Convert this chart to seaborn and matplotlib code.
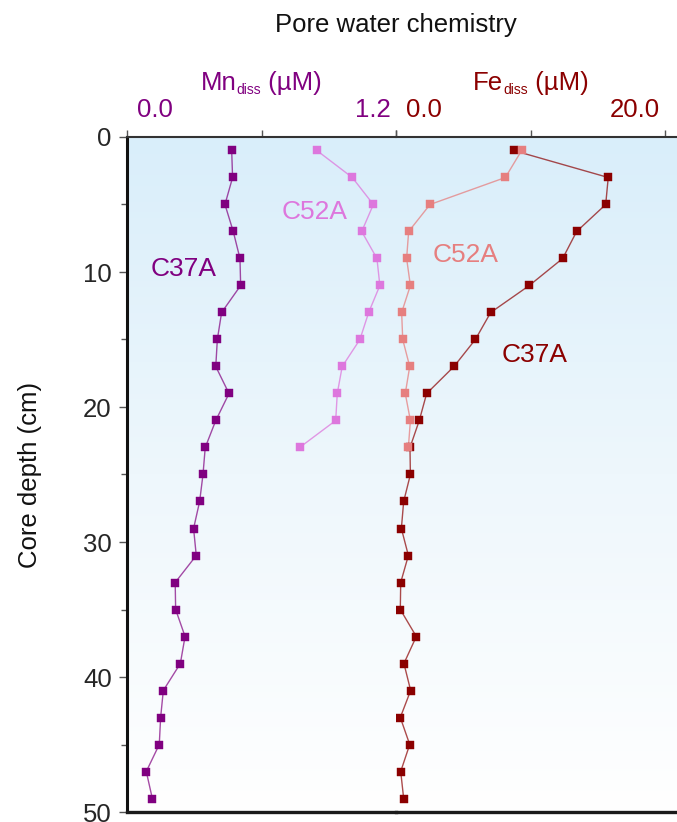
import numpy as np
import pandas as pd
import matplotlib
matplotlib.use("Agg")
import matplotlib.pyplot as plt
import seaborn as sns
from matplotlib.ticker import MultipleLocator
from matplotlib.colors import LinearSegmentedColormap

# ---------------- data ----------------
depth_c37a = [1, 3, 5, 7, 9, 11, 13, 15, 17, 19, 21, 23, 25,
              27, 29, 31, 33, 35, 37, 39, 41, 43, 45, 47, 49]
depth_c52a = [1, 3, 5, 7, 9, 11, 13, 15, 17, 19, 21, 23]

mn_c37a = [0.467, 0.471, 0.437, 0.474, 0.504, 0.507, 0.422, 0.403, 0.396,
           0.455, 0.396, 0.349, 0.339, 0.324, 0.297, 0.309, 0.215, 0.217,
           0.259, 0.238, 0.162, 0.150, 0.144, 0.086, 0.113]
mn_c52a = [0.847, 1.005, 1.099, 1.047, 1.115, 1.128, 1.078, 1.039, 0.960,
           0.938, 0.931, 0.770]

fe_c37a = [8.75, 15.78, 15.59, 13.43, 12.39, 9.91, 7.04, 5.90, 4.31, 2.28,
           1.73, 1.04, 1.07, 0.57, 0.40, 0.92, 0.35, 0.32, 1.51, 0.59, 1.09,
           0.32, 1.02, 0.35, 0.57]
fe_c52a = [9.34, 8.13, 2.53, 0.94, 0.79, 1.07, 0.42, 0.50, 1.02, 0.69, 1.07,
           0.92]

mn_ticks = [0.0, 0.6, 1.2]
fe_ticks = [0.0, 10.0, 20.0]
depth_ticks = [0, 10, 20, 30, 40, 50]
mn_ticklabels = {0.0: "0.0", 1.2: "1.2"}
fe_ticklabels = {0.0: "0.0", 20.0: "20.0"}

title = "Pore water chemistry"
ylabel = "Core depth (cm)"
series_labels = ["C37A", "C52A"]

# ---------------- style ----------------
sns.set_style("ticks")
plt.rcParams["font.family"] = ["Liberation Sans", "DejaVu Sans"]

PURPLE = "#800080"
ORCHID = "#DD77DD"
DARKRED = "#8B0000"
SALMON = "#E67F7F"
FS = 18.5

W, H = 677, 822
fig = plt.figure(figsize=(W / 100, H / 100), dpi=100)

# axes geometry (pixels)
x_left, x_mid = 127, 396
fe_px_per_unit = (665 - 396) / 20.0
fe_max = 21.0
x_right = x_mid + fe_max * fe_px_per_unit
y_top, y_bot = 137, 812

def fx(px):
    return px / W

def fy(py):
    return 1 - py / H

bottom = fy(y_bot)
height = fy(y_top) - bottom

# background gradient axes
bg = fig.add_axes([fx(x_left), bottom, fx(x_right) - fx(x_left), height], zorder=0)
grad = np.linspace(0, 1, 256).reshape(-1, 1)
cmap = LinearSegmentedColormap.from_list("bgc", ["#d9eefa", "#eef7fc", "#ffffff"])
bg.imshow(grad, aspect="auto", cmap=cmap, extent=[0, 1, 0, 1], origin="upper")
bg.set_axis_off()

ax_mn = fig.add_axes([fx(x_left), bottom, fx(x_mid) - fx(x_left), height], zorder=2)
ax_fe = fig.add_axes([fx(x_mid), bottom, fx(x_right) - fx(x_mid), height], zorder=2,
                     sharey=ax_mn)
for a in (ax_mn, ax_fe):
    a.set_facecolor("none")


def profile(ax, vals, depths, color, line_alpha):
    df = pd.DataFrame({"v": vals, "d": depths})
    sns.lineplot(data=df, x="v", y="d", orient="y", sort=False, estimator=None,
                 color=color, lw=1.0, alpha=line_alpha, ax=ax)
    sns.scatterplot(data=df, x="v", y="d", marker="s", s=26, color=color,
                    edgecolor=color, linewidth=0.3, ax=ax, zorder=3)


profile(ax_mn, mn_c37a, depth_c37a, PURPLE, 0.7)
profile(ax_mn, mn_c52a, depth_c52a, ORCHID, 0.75)
profile(ax_fe, fe_c37a, depth_c37a, DARKRED, 0.7)
profile(ax_fe, fe_c52a, depth_c52a, SALMON, 0.75)

ax_mn.set_xlim(0, 1.2)
ax_fe.set_xlim(0, fe_max)
ax_mn.set_ylim(50, 0)

for a in (ax_mn, ax_fe):
    a.set_xlabel("")
    a.set_ylabel("")
    a.xaxis.tick_top()
    a.tick_params(axis="x", which="both", top=True, bottom=False, labeltop=False,
                  labelbottom=False, length=5, width=1, color="#555555", direction="out")
    a.spines["right"].set_visible(False)
    a.spines["top"].set_color("#333333")
    a.spines["top"].set_linewidth(1.5)
    a.spines["bottom"].set_color("#1a1a1a")
    a.spines["bottom"].set_linewidth(2.4)

ax_mn.set_xticks(mn_ticks)
ax_fe.set_xticks(fe_ticks)

ax_mn.set_yticks(depth_ticks)
ax_mn.yaxis.set_minor_locator(MultipleLocator(5))
ax_mn.tick_params(axis="y", which="major", length=6, width=1, color="#555555",
                  labelsize=FS, pad=5, left=True)
ax_mn.tick_params(axis="y", which="minor", length=4, width=1, color="#555555", left=True)
ax_mn.spines["left"].set_color("#111111")
ax_mn.spines["left"].set_linewidth(2.2)

ax_fe.spines["left"].set_visible(False)
ax_fe.tick_params(axis="y", which="both", left=False, labelleft=False)

# tick labels placed just inside the tick positions
def top_ticklabel(ax, xval, s, color, left):
    off = 7 if left else -4
    ax.annotate(s, xy=(xval, 1), xycoords=ax.get_xaxis_transform(),
                xytext=(off, 14.6), textcoords="offset points",
                ha="left" if left else "right", va="baseline",
                fontsize=FS, color=color, annotation_clip=False)

for v, s in mn_ticklabels.items():
    top_ticklabel(ax_mn, v, s, PURPLE, v == mn_ticks[0])
for v, s in fe_ticklabels.items():
    top_ticklabel(ax_fe, v, s, DARKRED, v == fe_ticks[0])

# composite axis titles with small subscript
fig.canvas.draw()
renderer = fig.canvas.get_renderer()


def sub_label(ax, xval, parts, color, base=33.8):
    texts, widths = [], []
    for s, size, dy in parts:
        t = ax.annotate(s, xy=(xval, 1), xycoords=ax.get_xaxis_transform(),
                        xytext=(0, base + dy), textcoords="offset points",
                        ha="left", va="baseline", fontsize=size, color=color,
                        annotation_clip=False)
        widths.append(t.get_window_extent(renderer).width)
        texts.append(t)
    x0 = -sum(widths) / 2.0
    for t, w, (s, size, dy) in zip(texts, widths, parts):
        t.set_position((x0 * 72.0 / fig.dpi, base + dy))
        x0 += w


sub_label(ax_mn, mn_ticks[1], [("Mn", FS, 0), ("diss", 10, -3), (" (µM)", FS, 0)], PURPLE)
sub_label(ax_fe, fe_ticks[1], [("Fe", FS, 0), ("diss", 10, -3), (" (µM)", FS, 0)], DARKRED)

# series labels
ax_mn.text(0.254, 10.33, series_labels[0], color=PURPLE, fontsize=19, ha="center", va="baseline")
ax_mn.text(0.835, 6.07, series_labels[1], color=ORCHID, fontsize=19, ha="center", va="baseline")
ax_fe.text(5.2, 9.26, series_labels[1], color=SALMON, fontsize=19, ha="center", va="baseline")
ax_fe.text(10.3, 16.67, series_labels[0], color=DARKRED, fontsize=19, ha="center", va="baseline")

fig.text(fx(396), fy(32), title, ha="center", va="baseline", fontsize=FS, color="#111111")
fig.text(fx(30), fy((y_top + y_bot) / 2), ylabel, rotation=90, ha="center", va="center",
         fontsize=FS, color="#111111")

fig.savefig("out.png", dpi=100)
